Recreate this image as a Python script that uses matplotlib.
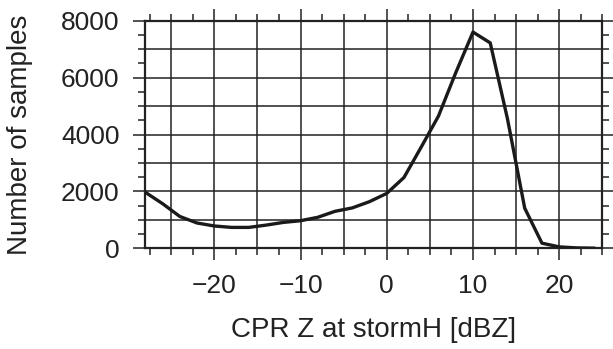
import numpy as np
import matplotlib
matplotlib.use("Agg")
import matplotlib.pyplot as plt
from matplotlib.ticker import MultipleLocator

# CPR reflectivity bins [dBZ] and sample counts
dbz = [-28, -26, -24, -22, -20, -18, -16, -14, -12, -10, -8, -6, -4,
       -2, 0, 2, 4, 6, 8, 10, 12, 14, 16, 18, 20, 22, 24]
counts = [1970, 1570, 1120, 890, 785, 735, 735, 815, 910, 970, 1090, 1300, 1420,
          1640, 1930, 2490, 3560, 4650, 6170, 7600, 7220, 4550, 1410, 180, 50, 15, 5]

xgrid = np.arange(-25, 26, 5)
ygrid = np.arange(1000, 8000, 1000)

plt.rcParams['font.family'] = ['Liberation Sans', 'DejaVu Sans']

fig = plt.figure(figsize=(6.13, 3.49), dpi=100)
ax = fig.add_axes([0.237, 0.2885, 0.7456, 0.6522])

# grid every 5 dBZ / 1000 samples
for g in xgrid:
    ax.axvline(g, color='#222222', lw=1.1, zorder=1)
for g in ygrid:
    ax.axhline(g, color='#222222', lw=1.1, zorder=1)

ax.plot(dbz, counts, color='#1a1a1a', lw=2.4, zorder=3)

ax.set_xlim(-28, 25)
ax.set_ylim(0, 8000)

ax.xaxis.set_major_locator(MultipleLocator(10))
ax.xaxis.set_minor_locator(MultipleLocator(2.5))
ax.yaxis.set_major_locator(MultipleLocator(2000))
ax.yaxis.set_minor_locator(MultipleLocator(500))

ax.tick_params(which='both', direction='out', top=True, right=True,
               color='#222222', width=1.1)
ax.tick_params(which='major', length=8.6, pad=10, labelsize=19, labelcolor='#222222')
ax.tick_params(which='minor', length=5)

for s in ax.spines.values():
    s.set_linewidth(1.6)
    s.set_color('#222222')

ax.set_xlabel('CPR Z at stormH [dBZ]', fontsize=20, color='#222222')
ax.set_ylabel('Number of samples', fontsize=20, color='#222222')
ax.xaxis.set_label_coords(0.5, -0.3)
ax.yaxis.set_label_coords(-0.245, 0.5)

plt.savefig('out.png', dpi=100)
